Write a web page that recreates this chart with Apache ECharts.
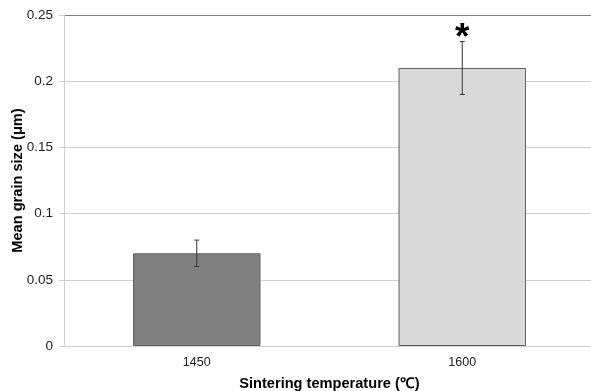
<!DOCTYPE html>
<html>
<head>
<meta charset="utf-8">
<script src="https://cdn.jsdelivr.net/npm/echarts@6.0.0/dist/echarts.min.js"></script>
<style>
  html, body { margin: 0; padding: 0; background: #fff; }
  #chart { width: 591px; height: 391px; }
</style>
</head>
<body>
<div id="chart"></div>
<script>
// values
const temperatures = ["1450", "1600"];
const meanGrain = [0.07, 0.21];
const errLow = [0.06, 0.19];
const errHigh = [0.08, 0.23];
const signif = ["", "*"];
const barColors = ["#808080", "#d9d9d9"];

const chart = echarts.init(document.getElementById("chart"), null, { renderer: "canvas" });

const font = "Liberation Sans, Arial, sans-serif";

const option = {
  animation: false,
  grid: { left: 64, right: -4, top: 15, bottom: 45, containLabel: false, outerBoundsMode: "none" },
  xAxis: {
    type: "category",
    data: temperatures,
    name: "Sintering temperature (\u2103)",
    nameLocation: "middle",
    nameGap: 30,
    nameMoveOverlap: false,
    nameTextStyle: { fontFamily: font, fontSize: 14.6, fontWeight: "bold", color: "#000" },
    axisLine: { lineStyle: { color: "#d0d0d0", width: 1 } },
    axisTick: { show: false },
    axisLabel: { fontFamily: font, fontSize: 12.5, color: "#222", margin: 10 }
  },
  yAxis: {
    type: "value",
    min: 0,
    max: 0.25,
    interval: 0.05,
    name: "Mean grain size (\u03bcm)",
    nameLocation: "middle",
    nameGap: 39,
    nameMoveOverlap: false,
    nameTextStyle: { fontFamily: font, fontSize: 14.6, fontWeight: "bold", color: "#000" },
    axisLine: { show: true, lineStyle: { color: "#d0d0d0", width: 1 } },
    axisTick: { show: true, length: 5, lineStyle: { color: "#d0d0d0" } },
    axisLabel: { fontFamily: font, fontSize: 13.5, color: "#222", margin: 11,
      formatter: v => (v === 0 ? "0" : String(+v.toFixed(2))) },
    splitLine: {
      lineStyle: {
        color: ["#d0d0d0", "#d0d0d0", "#d0d0d0", "#d0d0d0", "#d0d0d0", "#808080"],
        width: 1
      }
    }
  },
  series: [
    {
      type: "bar",
      barWidth: "48%",
      data: meanGrain.map((v, i) => ({
        value: v,
        itemStyle: { color: barColors[i], borderColor: "#606060", borderWidth: 1 }
      }))
    },
    {
      type: "custom",
      z: 5,
      data: temperatures.map((t, i) => [i, errLow[i], errHigh[i]]),
      renderItem: function (params, api) {
        const x = api.coord([api.value(0), 0])[0];
        const lo = api.coord([api.value(0), api.value(1)])[1];
        const hi = api.coord([api.value(0), api.value(2)])[1];
        const cap = 2.5;
        const style = { stroke: "#333", lineWidth: 1 };
        const children = [
          { type: "line", shape: { x1: x, y1: lo, x2: x, y2: hi }, style },
          { type: "line", shape: { x1: x - cap, y1: lo, x2: x + cap, y2: lo }, style },
          { type: "line", shape: { x1: x - cap, y1: hi, x2: x + cap, y2: hi }, style }
        ];
        const mark = signif[params.dataIndex];
        if (mark) {
          children.push({
            type: "text",
            style: {
              text: mark,
              x: x,
              y: hi + 16,
              align: "center",
              verticalAlign: "bottom",
              fontFamily: font,
              fontSize: 37,
              fontWeight: "bold",
              fill: "#000"
            }
          });
        }
        return { type: "group", children };
      }
    }
  ]
};

chart.setOption(option);
</script>
</body>
</html>
